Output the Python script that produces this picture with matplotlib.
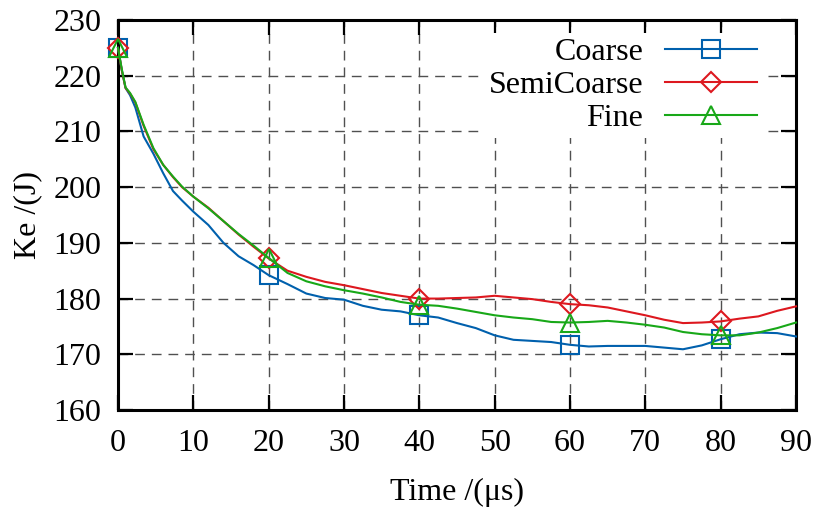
import matplotlib
matplotlib.use("Agg")
import matplotlib.pyplot as plt

# Time samples (microseconds)
time_us = [0, 0.5, 1, 1.6, 2.3, 3.4, 4.7, 6, 7.3, 8.5, 10, 12, 14, 16, 18, 20,
           22.5, 25, 27.5, 30, 32.5, 35, 37.5, 40, 42.5, 45, 47.5, 50, 52.5, 55,
           57.5, 60, 62.5, 65, 67.5, 70, 72.5, 75, 77.5, 80, 82.5, 85, 87.5, 90]

# Kinetic energy (J) for each mesh resolution
ke_coarse = [225.0, 221.0, 217.8, 216.5, 214.3, 209.1, 206.0, 202.5, 199.3, 197.6,
             195.6, 193.2, 190.0, 187.6, 186.0, 184.2, 182.6, 180.9, 180.1, 179.8,
             178.7, 178.0, 177.7, 177.0, 176.6, 175.6, 174.7, 173.4, 172.6, 172.4,
             172.2, 171.7, 171.4, 171.5, 171.5, 171.5, 171.2, 170.9, 171.6, 172.7,
             173.6, 173.9, 173.8, 173.2]
ke_semicoarse = [225.0, 221.0, 217.8, 216.8, 215.2, 211.0, 206.8, 204.0, 201.8, 200.0,
                 198.3, 196.3, 193.9, 191.5, 189.3, 187.2, 185.0, 183.9, 183.0, 182.4,
                 181.7, 181.0, 180.5, 180.0, 180.0, 180.1, 180.2, 180.5, 180.2, 179.9,
                 179.4, 179.0, 178.8, 178.4, 177.7, 177.0, 176.2, 175.6, 175.7, 175.9,
                 176.4, 176.8, 177.8, 178.6]
ke_fine = [225.0, 221.2, 217.9, 216.9, 215.3, 211.2, 207.0, 204.0, 201.9, 200.1,
           198.3, 196.2, 193.9, 191.6, 189.5, 187.3, 184.6, 183.1, 182.2, 181.5,
           180.9, 180.2, 179.4, 178.9, 178.7, 178.2, 177.6, 177.0, 176.6, 176.3,
           175.8, 175.7, 175.8, 176.0, 175.7, 175.3, 174.8, 174.0, 173.6, 173.4,
           173.4, 173.9, 174.7, 175.7]

series_names = ["Coarse", "SemiCoarse", "Fine"]
series_colors = ["#0060ad", "#dd181f", "#18a818"]
series_markers = ["s", "D", "^"]
marker_times = [0, 20, 40, 60, 80]

x_ticks = [0, 10, 20, 30, 40, 50, 60, 70, 80, 90]
y_ticks = [160, 170, 180, 190, 200, 210, 220, 230]

FS = 23

plt.rcParams["font.family"] = ["Liberation Serif", "DejaVu Serif"]

fig = plt.figure(figsize=(8.19, 5.08), dpi=100)
ax = fig.add_axes([118 / 819, 1 - 410 / 508, (796 - 118) / 819, (410 - 20) / 508])

mark_idx = [time_us.index(t) for t in marker_times]
sizes = {"s": 12.5, "D": 10.5, "^": 12.5}
for name, vals, col, mk in zip(series_names,
                               [ke_coarse, ke_semicoarse, ke_fine],
                               series_colors, series_markers):
    ax.plot(time_us, vals, color=col, lw=1.5, marker=mk, markevery=mark_idx,
            markersize=sizes[mk], markerfacecolor="none", markeredgecolor=col,
            markeredgewidth=1.5, label=name, clip_on=False, zorder=3)

ax.set_xlim(0, 90)
ax.set_ylim(160, 230)
ax.set_xticks(x_ticks)
ax.set_yticks(y_ticks)

ax.set_axisbelow(True)
ax.grid(True, color="#505050", lw=1.0, linestyle=(0, (7, 5)))

for sp in ax.spines.values():
    sp.set_linewidth(2.2)
ax.tick_params(direction="in", length=11, width=1.6, top=True, right=True,
               labelsize=FS, colors="black")
ax.tick_params(axis="x", pad=14)
ax.tick_params(axis="y", pad=12)

ax.set_xlabel("Time /(μs)", fontsize=FS, labelpad=14)
ax.set_ylabel("Ke /(J)", fontsize=FS, labelpad=8)

leg = ax.legend(loc="upper right", bbox_to_anchor=(0.950, 0.967),
                bbox_transform=ax.transAxes, markerfirst=False, frameon=True,
                fancybox=False, edgecolor="none", facecolor="white", framealpha=1,
                handlelength=2.88, handletextpad=0.69, labelspacing=0.12,
                borderpad=0.15, borderaxespad=0, fontsize=FS)

fig.savefig("out.png", dpi=100)
